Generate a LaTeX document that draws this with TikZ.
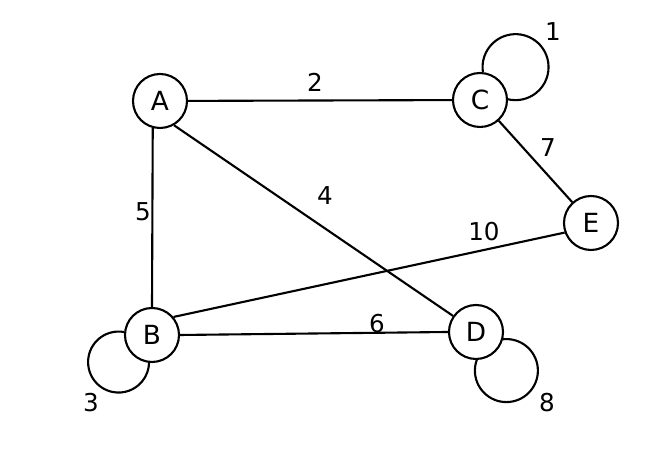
\documentclass[tikz,border=0pt]{standalone}
\usepackage{fontspec}
\setmainfont{DejaVu Sans}

\begin{document}
\begin{tikzpicture}[line width=1.2pt,
    vertex/.style={circle, draw, minimum size=1.08cm, inner sep=0pt, font=\fontsize{15}{18}\selectfont},
    weight/.style={font=\fontsize{14}{17}\selectfont}]

    \useasboundingbox (0,0) rectangle (13.36,9.48);

    %sommets
    \node[vertex] (A) at (3.2, 7.46) {A};
    \node[vertex] (C) at (9.6, 7.48) {C};
    \node[vertex] (E) at (11.82, 5.02) {E};
    \node[vertex] (B) at (3.04, 2.78) {B};
    \node[vertex] (D) at (9.52, 2.84) {D};

    %aretes
    \draw (A) -- (C);
    \draw (A.255) -- (B.north);
    \draw (A.300) -- (D.145);
    \draw (C) -- (E);
    \draw (B.40) -- (E.200);
    \draw (B.east) -- (D.west);

    %boucles
    \draw (C.84.4) arc[start angle=188.6, end angle=-104.5, radius=0.66cm];
    \draw (B.174) arc[start angle=79.6, end angle=360.4, radius=0.61cm];
    \draw (D.345.7) arc[start angle=96, end angle=-200.4, radius=0.63cm];

    %poids
    \node[weight] (w1) at (11.06, 8.84) {1};
    \node[weight] (w2) at (6.30, 7.84) {2};
    \node[weight] (w3) at (1.82, 1.42) {3};
    \node[weight] (w4) at (6.50, 5.56) {4};
    \node[weight] (w5) at (2.86, 5.24) {5};
    \node[weight] (w6) at (7.54, 3.00) {6};
    \node[weight] (w7) at (10.96, 6.52) {7};
    \node[weight] (w8) at (10.94, 1.42) {8};
    \node[weight] (w10) at (9.68, 4.84) {10};
\end{tikzpicture}
\end{document}
